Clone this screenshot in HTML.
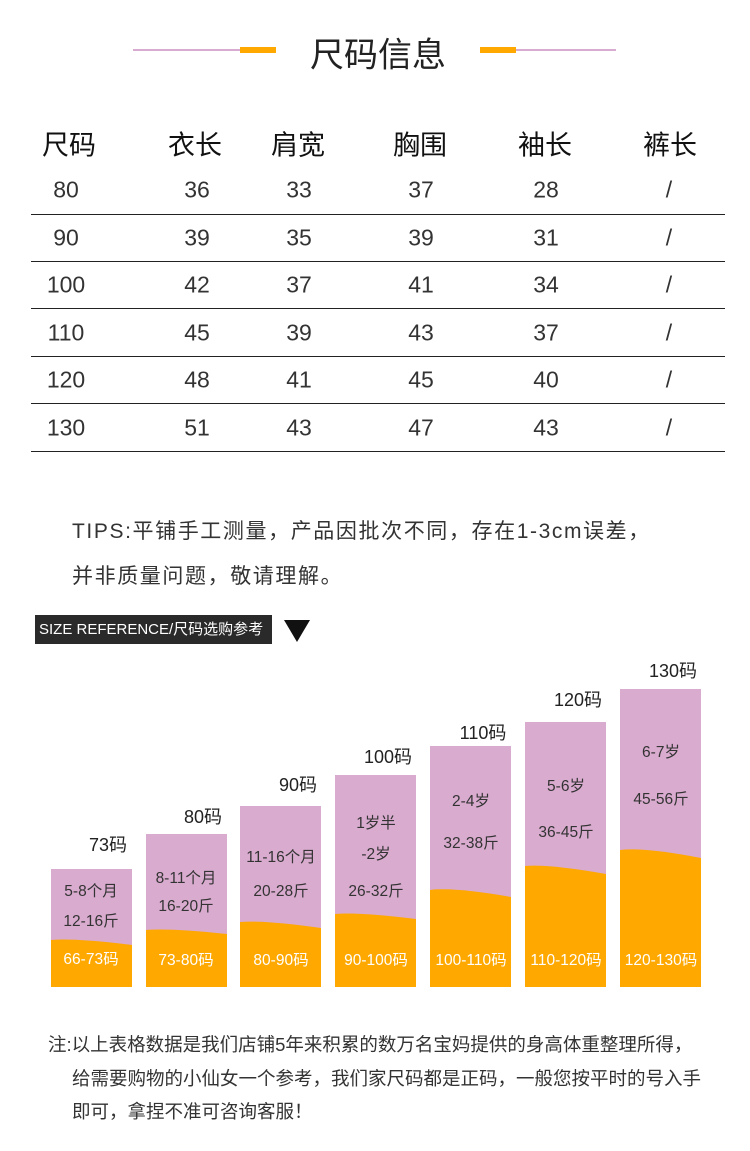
<!DOCTYPE html>
<html><head><meta charset="utf-8"><style>
body{margin:0;width:750px;height:1151px;background:#fff;position:relative;overflow:hidden;font-family:"Liberation Sans","Noto Sans CJK SC",sans-serif;color:#222}
.a{position:absolute;white-space:nowrap}
.c{transform:translate(-50%,-50%)}
.h{font-size:27px;color:#111}
.n{font-size:23px;color:#333}
.ln{position:absolute;left:31px;width:694px;height:1px;background:#222}
.lb{font-size:18px;color:#222}
.pt{font-size:15.5px;color:#333}
.ot{font-size:15.5px;color:#fff}
.ft{font-size:18.5px;color:#333}
</style></head><body>
<div class="a" style="left:133px;top:49px;width:107px;height:2px;background:#d8acd0"></div>
<div class="a" style="left:240px;top:47px;width:36px;height:6px;background:#ffa800"></div>
<div class="a" style="left:480px;top:47px;width:36px;height:6px;background:#ffa800"></div>
<div class="a" style="left:516px;top:49px;width:100px;height:2px;background:#d8acd0"></div>
<div class="a c" style="left:378px;top:52px;font-size:34px;color:#222">尺码信息</div>

<div class="a c h" style="left:69px;top:143px">尺码</div>
<div class="a c h" style="left:195px;top:143px">衣长</div>
<div class="a c h" style="left:298px;top:143px">肩宽</div>
<div class="a c h" style="left:420px;top:143px">胸围</div>
<div class="a c h" style="left:545px;top:143px">袖长</div>
<div class="a c h" style="left:670px;top:143px">裤长</div>

<div class="a c n" style="left:66px;top:190px">80</div><div class="a c n" style="left:197px;top:190px">36</div><div class="a c n" style="left:299px;top:190px">33</div><div class="a c n" style="left:421px;top:190px">37</div><div class="a c n" style="left:546px;top:190px">28</div><div class="a c n" style="left:669px;top:190px">/</div>
<div class="ln" style="top:214px"></div>
<div class="a c n" style="left:66px;top:238px">90</div><div class="a c n" style="left:197px;top:238px">39</div><div class="a c n" style="left:299px;top:238px">35</div><div class="a c n" style="left:421px;top:238px">39</div><div class="a c n" style="left:546px;top:238px">31</div><div class="a c n" style="left:669px;top:238px">/</div>
<div class="ln" style="top:261px"></div>
<div class="a c n" style="left:66px;top:285px">100</div><div class="a c n" style="left:197px;top:285px">42</div><div class="a c n" style="left:299px;top:285px">37</div><div class="a c n" style="left:421px;top:285px">41</div><div class="a c n" style="left:546px;top:285px">34</div><div class="a c n" style="left:669px;top:285px">/</div>
<div class="ln" style="top:308px"></div>
<div class="a c n" style="left:66px;top:333px">110</div><div class="a c n" style="left:197px;top:333px">45</div><div class="a c n" style="left:299px;top:333px">39</div><div class="a c n" style="left:421px;top:333px">43</div><div class="a c n" style="left:546px;top:333px">37</div><div class="a c n" style="left:669px;top:333px">/</div>
<div class="ln" style="top:356px"></div>
<div class="a c n" style="left:66px;top:380px">120</div><div class="a c n" style="left:197px;top:380px">48</div><div class="a c n" style="left:299px;top:380px">41</div><div class="a c n" style="left:421px;top:380px">45</div><div class="a c n" style="left:546px;top:380px">40</div><div class="a c n" style="left:669px;top:380px">/</div>
<div class="ln" style="top:403px"></div>
<div class="a c n" style="left:66px;top:428px">130</div><div class="a c n" style="left:197px;top:428px">51</div><div class="a c n" style="left:299px;top:428px">43</div><div class="a c n" style="left:421px;top:428px">47</div><div class="a c n" style="left:546px;top:428px">43</div><div class="a c n" style="left:669px;top:428px">/</div>
<div class="ln" style="top:451px"></div>

<div class="a" style="left:72px;top:515px;font-size:21px;letter-spacing:1.6px;color:#333">TIPS:平铺手工测量，产品因批次不同，存在1-3cm误差，</div>
<div class="a" style="left:72px;top:560px;font-size:21px;letter-spacing:1.6px;color:#333">并非质量问题，敬请理解。</div>

<div class="a" style="left:35px;top:615px;width:237px;height:29px;background:#2a2a2a;color:#fff;font-size:15px;line-height:29px;text-indent:4px">SIZE REFERENCE/尺码选购参考</div>
<svg class="a" style="left:284px;top:620px" width="26" height="23"><polygon points="0,0 26,0 13,22" fill="#111"/></svg>

<svg class="a" style="left:0;top:0" width="750" height="1151">
<g fill="#d9abcf">
<rect x="51" y="869" width="81" height="118"/><rect x="146" y="834" width="81" height="153"/><rect x="240" y="806" width="81" height="181"/><rect x="335" y="775" width="81" height="212"/><rect x="430" y="746" width="81" height="241"/><rect x="525" y="722" width="81" height="265"/><rect x="620" y="689" width="81" height="298"/>
</g>
<g fill="#ffa800">
<path d="M51 940 Q75 938 132 945 V987 H51Z"/><path d="M146 930 Q170 928 227 934 V987 H146Z"/><path d="M240 922 Q264 920 321 928 V987 H240Z"/><path d="M335 914 Q359 912 416 919 V987 H335Z"/><path d="M430 890 Q454 887 511 897 V987 H430Z"/><path d="M525 866 Q549 864 606 874 V987 H525Z"/><path d="M620 850 Q644 847 701 858 V987 H620Z"/>
</g>
</svg>

<div class="a c lb" style="left:108px;top:844px">73码</div>
<div class="a c lb" style="left:203px;top:816px">80码</div>
<div class="a c lb" style="left:298px;top:784px">90码</div>
<div class="a c lb" style="left:388px;top:756px">100码</div>
<div class="a c lb" style="left:483px;top:732px">110码</div>
<div class="a c lb" style="left:578px;top:699px">120码</div>
<div class="a c lb" style="left:673px;top:670px">130码</div>

<div class="a c pt" style="left:91px;top:890px">5-8个月</div><div class="a c pt" style="left:91px;top:920px">12-16斤</div>
<div class="a c pt" style="left:186px;top:877px">8-11个月</div><div class="a c pt" style="left:186px;top:905px">16-20斤</div>
<div class="a c pt" style="left:281px;top:856px">11-16个月</div><div class="a c pt" style="left:281px;top:890px">20-28斤</div>
<div class="a c pt" style="left:376px;top:822px">1岁半</div><div class="a c pt" style="left:376px;top:853px">-2岁</div><div class="a c pt" style="left:376px;top:890px">26-32斤</div>
<div class="a c pt" style="left:471px;top:800px">2-4岁</div><div class="a c pt" style="left:471px;top:842px">32-38斤</div>
<div class="a c pt" style="left:566px;top:785px">5-6岁</div><div class="a c pt" style="left:566px;top:831px">36-45斤</div>
<div class="a c pt" style="left:661px;top:751px">6-7岁</div><div class="a c pt" style="left:661px;top:798px">45-56斤</div>

<div class="a c ot" style="left:91px;top:958px">66-73码</div>
<div class="a c ot" style="left:186px;top:959px">73-80码</div>
<div class="a c ot" style="left:281px;top:959px">80-90码</div>
<div class="a c ot" style="left:376px;top:959px">90-100码</div>
<div class="a c ot" style="left:471px;top:959px">100-110码</div>
<div class="a c ot" style="left:566px;top:959px">110-120码</div>
<div class="a c ot" style="left:661px;top:959px">120-130码</div>

<div class="a ft" style="left:48px;top:1031px">注:以上表格数据是我们店铺5年来积累的数万名宝妈提供的身高体重整理所得，</div>
<div class="a ft" style="left:72px;top:1065px">给需要购物的小仙女一个参考，我们家尺码都是正码，一般您按平时的号入手</div>
<div class="a ft" style="left:72px;top:1098px">即可，拿捏不准可咨询客服！</div>
</body></html>
